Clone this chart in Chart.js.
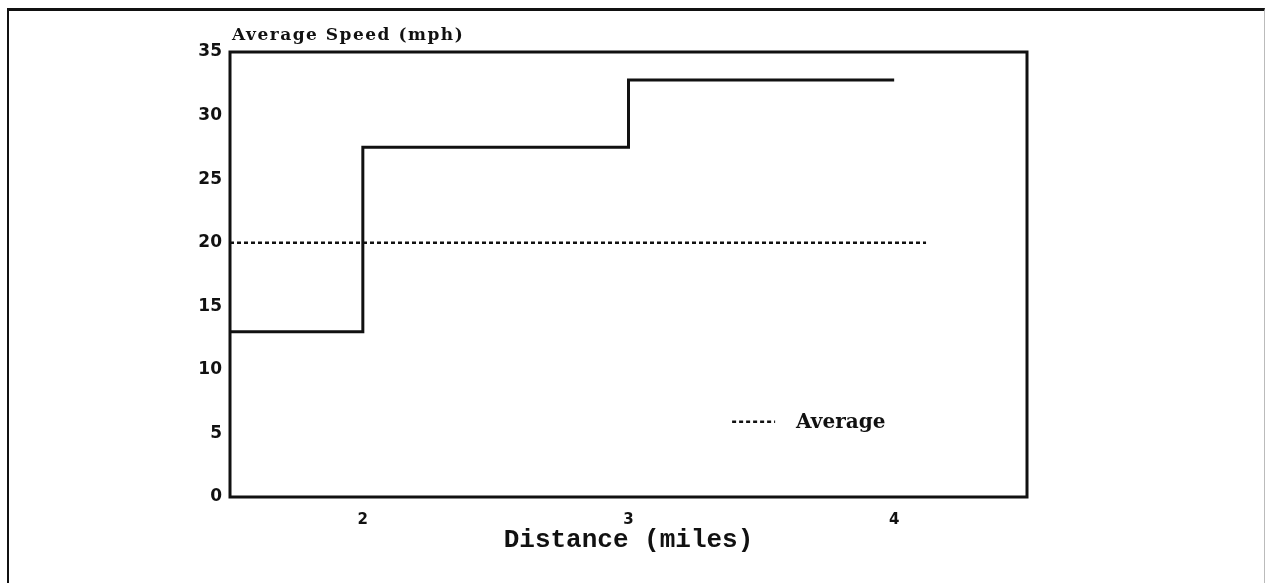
<!DOCTYPE html>
<html>
<head>
<meta charset="utf-8">
<script src="https://cdn.jsdelivr.net/npm/chart.js@4.4.1/dist/chart.umd.min.js"></script>
<style>
  html, body { margin: 0; padding: 0; background: #fff; }
  #wrap { position: relative; width: 1266px; height: 583px; overflow: hidden; }
  #frame { position: absolute; left: 7px; top: 8px; right: 1px; bottom: -10px;
           border-top: 3px solid #111; border-left: 2px solid #111; border-right: 1px solid #bbb;
           pointer-events: none; }
</style>
</head>
<body>
<div id="wrap">
  <canvas id="myChart" width="1266" height="583"></canvas>
  <div id="frame"></div>
</div>
<script>
// step profile: speed held from each start mile until the next one
var stepStarts = [1.5, 2, 3];
var stepEnd = 4;
var speeds = [13, 27.5, 32.8];
var averageSpeed = 20;
var averageSpan = [1.5, 4.12];
var xTicks = [2, 3, 4];
var yTicks = [0, 5, 10, 15, 20, 25, 30, 35];

var stepPoints = stepStarts.map(function (x, i) {
  return { x: x, y: speeds[i] };
});
stepPoints.push({ x: stepEnd, y: speeds[speeds.length - 1] });

var avgPoints = averageSpan.map(function (x) {
  return { x: x, y: averageSpeed };
});

var extras = {
  id: "extras",
  afterDraw: function (chart) {
    var ctx = chart.ctx;
    var a = chart.chartArea;
    ctx.save();
    // plot frame
    ctx.strokeStyle = "#111";
    ctx.lineWidth = 3;
    ctx.strokeRect(a.left, a.top, a.right - a.left, a.bottom - a.top);
    // axis title at top left
    ctx.fillStyle = "#111";
    ctx.font = "bold 17px 'DejaVu Serif'";
    ctx.letterSpacing = "1.5px";
    ctx.textBaseline = "alphabetic";
    ctx.textAlign = "left";
    ctx.fillText("Average Speed (mph)", a.left + 2, a.top - 12);
    ctx.letterSpacing = "0px";
    // legend
    var lx = a.left + (a.right - a.left) * 0.63;
    var ly = a.top + (a.bottom - a.top) * 0.831;
    ctx.lineWidth = 2.5;
    ctx.setLineDash([4, 3]);
    ctx.beginPath();
    ctx.moveTo(lx, ly);
    ctx.lineTo(lx + 43, ly);
    ctx.stroke();
    ctx.setLineDash([]);
    ctx.font = "bold 20px 'DejaVu Serif'";
    ctx.textBaseline = "middle";
    ctx.fillText("Average", lx + 64, ly + 1);
    ctx.restore();
  },
};

var ctx = document.getElementById("myChart").getContext("2d");
var myChart = new Chart(ctx, {
  type: "line",
  data: {
    datasets: [
      {
        label: "Speed",
        data: stepPoints,
        stepped: "before",
        borderColor: "#111",
        borderWidth: 3,
        pointRadius: 0,
        fill: false,
      },
      {
        label: "Average",
        data: avgPoints,
        borderColor: "#111",
        borderWidth: 2.5,
        borderDash: [4, 3],
        pointRadius: 0,
        fill: false,
      },
    ],
  },
  options: {
    responsive: false,
    animation: false,
    layout: {
      padding: { left: 0, right: 239, top: 52, bottom: 0 },
    },
    plugins: {
      legend: { display: false },
      tooltip: { enabled: false },
    },
    scales: {
      x: {
        type: "linear",
        min: 1.5,
        max: 4.5,
        afterBuildTicks: function (scale) {
          scale.ticks = xTicks.map(function (v) { return { value: v }; });
        },
        afterFit: function (scale) {
          scale.height = 86;
        },
        grid: { display: false, drawTicks: false },
        border: { display: false },
        ticks: {
          color: "#111",
          padding: 14,
          font: { family: "'DejaVu Sans'", weight: "bold", size: 15 },
        },
        title: {
          display: true,
          text: "Distance (miles)",
          color: "#111",
          padding: { top: 0, bottom: 27 },
          font: { family: "'Liberation Mono'", weight: "bold", size: 26 },
        },
      },
      y: {
        min: 0,
        max: 35,
        afterBuildTicks: function (scale) {
          scale.ticks = yTicks.map(function (v) { return { value: v }; });
        },
        afterFit: function (scale) {
          scale.width = 230;
        },
        grid: { display: false, drawTicks: false },
        border: { display: false },
        ticks: {
          color: "#111",
          padding: 8,
          font: { family: "'DejaVu Sans'", weight: "bold", size: 17 },
        },
      },
    },
  },
  plugins: [extras],
});
</script>
</body>
</html>
